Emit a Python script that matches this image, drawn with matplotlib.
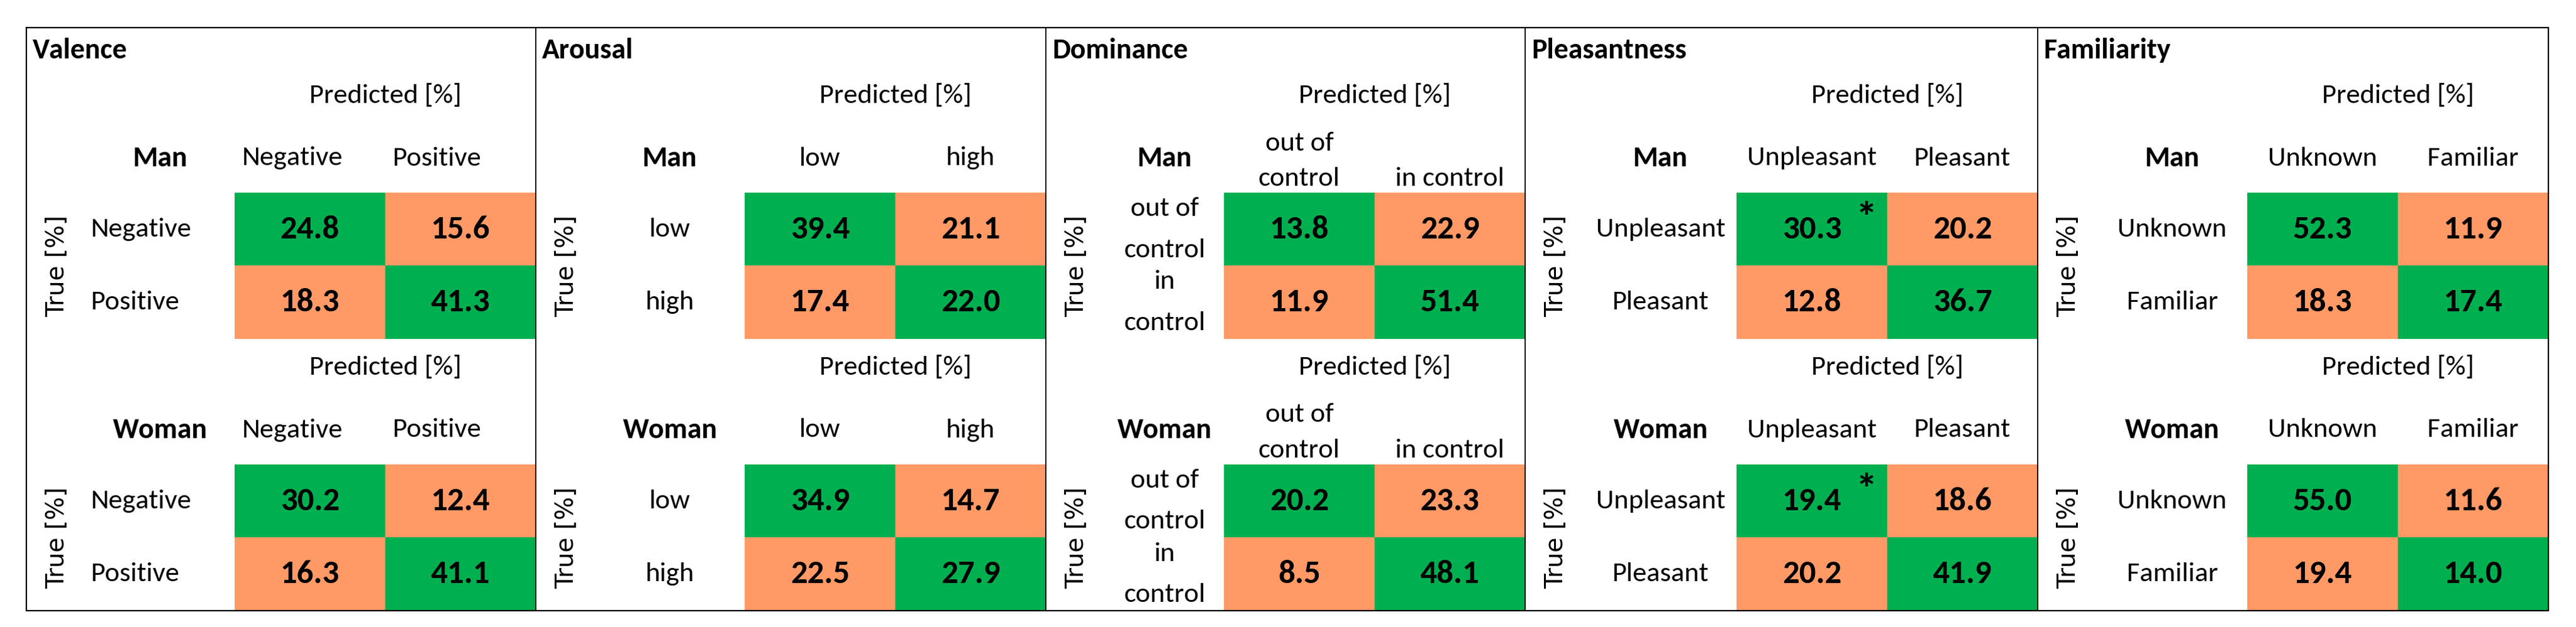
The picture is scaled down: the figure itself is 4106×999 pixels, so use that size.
import numpy as np
import matplotlib
matplotlib.use("Agg")
import matplotlib.pyplot as plt
import matplotlib.font_manager as fm
from matplotlib.colors import ListedColormap

# ---- data ----
titles = ["Valence", "Arousal", "Dominance", "Pleasantness", "Familiarity"]
classes = [["Negative", "Positive"],
           ["low", "high"],
           ["out of\ncontrol", "in control"],
           ["Unpleasant", "Pleasant"],
           ["Unknown", "Familiar"]]
row_labels = [["Negative", "Positive"],
              ["low", "high"],
              ["out of\ncontrol", "in\ncontrol"],
              ["Unpleasant", "Pleasant"],
              ["Unknown", "Familiar"]]
groups = ["Man", "Woman"]

man_vals = [[[24.8, 15.6], [18.3, 41.3]],
            [[39.4, 21.1], [17.4, 22.0]],
            [[13.8, 22.9], [11.9, 51.4]],
            [[30.3, 20.2], [12.8, 36.7]],
            [[52.3, 11.9], [18.3, 17.4]]]
woman_vals = [[[30.2, 12.4], [16.3, 41.1]],
              [[34.9, 14.7], [22.5, 27.9]],
              [[20.2, 23.3], [8.5, 48.1]],
              [[19.4, 18.6], [20.2, 41.9]],
              [[55.0, 11.6], [19.4, 14.0]]]
# cells marked with an asterisk (panel, row, col)
starred = [(3, 0, 0)]

# ---- layout (pixels) ----
W, H = 4106, 999
panel_left = [42, 854, 1667, 2431, 3248]
frame_right = 4062
frame_top, frame_bottom = 44, 973
cell_w, cell_h = 240, 116.5
block_shift = 433
align = ["left", "center", "center", "center", "center"]

green = "#00B050"
orange = "#FF9966"

names = {f.name for f in fm.fontManager.ttflist}
FONT = "Lato"
for cand in ["Carlito", "Liberation Sans Narrow", "Lato"]:
    if cand in names:
        FONT = cand
        break
plt.rcParams["font.family"] = FONT
FS = 32      # plain labels
FS_B = 33    # bold labels
FS_N = 38    # cell values

fig = plt.figure(figsize=(W / 100, H / 100), dpi=100)
cmap = ListedColormap([orange, green])

panel_right = panel_left[1:] + [frame_right]

# confusion matrices
for p in range(5):
    x0 = panel_right[p] - 2 * cell_w
    for b, vals in enumerate([man_vals[p], woman_vals[p]]):
        y0 = 307 + b * block_shift
        ax = fig.add_axes([x0 / W, 1 - (y0 + 2 * cell_h) / H,
                           2 * cell_w / W, 2 * cell_h / H])
        ax.imshow(np.eye(2), cmap=cmap, aspect="auto", vmin=0, vmax=1)
        ax.axis("off")
        for i in range(2):
            for j in range(2):
                ax.text(j, i, f"{vals[i][j]:.1f}", ha="center", va="center",
                        fontsize=FS_N, fontweight="bold")
                if (p, i, j) in starred:
                    ax.text(j + 0.36, i - 0.13, "*", ha="center", va="center",
                            fontsize=50, fontweight="bold")

# overlay with labels and borders
ov = fig.add_axes([0, 0, 1, 1])
ov.set_xlim(0, W)
ov.set_ylim(H, 0)
ov.axis("off")
ov.patch.set_alpha(0)

for p in range(5):
    left = panel_left[p]
    x0 = panel_right[p] - 2 * cell_w
    lab_c = (left + 95 + x0) / 2
    ov.text(left + 10, 80, titles[p], fontsize=FS_B, fontweight="bold",
            ha="left", va="center")
    for b in range(2):
        dy = b * block_shift
        ov.text(x0 + cell_w, 152 + dy, "Predicted [%]", fontsize=FS,
                ha="center", va="center")
        ov.text(lab_c, 252 + dy, groups[b], fontsize=FS_B, fontweight="bold",
                ha="center", va="center")
        for j in range(2):
            if align[p] == "left":
                hx = x0 + j * cell_w + 12
            else:
                hx = x0 + j * cell_w + cell_w / 2
            lab = classes[p][j]
            if p == 2:
                ov.text(hx, 303 + dy, lab, fontsize=FS, ha=align[p],
                        va="bottom", multialignment="center", linespacing=1.65)
            else:
                ov.text(hx, 252 + dy, lab, fontsize=FS, ha=align[p],
                        va="center")
        for i in range(2):
            cy = 307 + dy + (i + 0.5) * cell_h
            if align[p] == "left":
                rx = left + 103
            else:
                rx = lab_c
            ov.text(rx, cy, row_labels[p][i], fontsize=FS, ha=align[p],
                    va="center", multialignment="center", linespacing=1.95)
        ov.text(left + 49, 307 + dy + cell_h, "True [%]", fontsize=28,
                family="DejaVu Sans", rotation=90, ha="center", va="center")

# frame and dividers
ov.plot([panel_left[0], frame_right, frame_right, panel_left[0], panel_left[0]],
        [frame_top, frame_top, frame_bottom, frame_bottom, frame_top],
        color="black", lw=1.6, solid_joinstyle="miter")
for x in panel_left[1:]:
    ov.plot([x, x], [frame_top, frame_bottom], color="black", lw=1.3)

fig.savefig("out.png", dpi=100)
